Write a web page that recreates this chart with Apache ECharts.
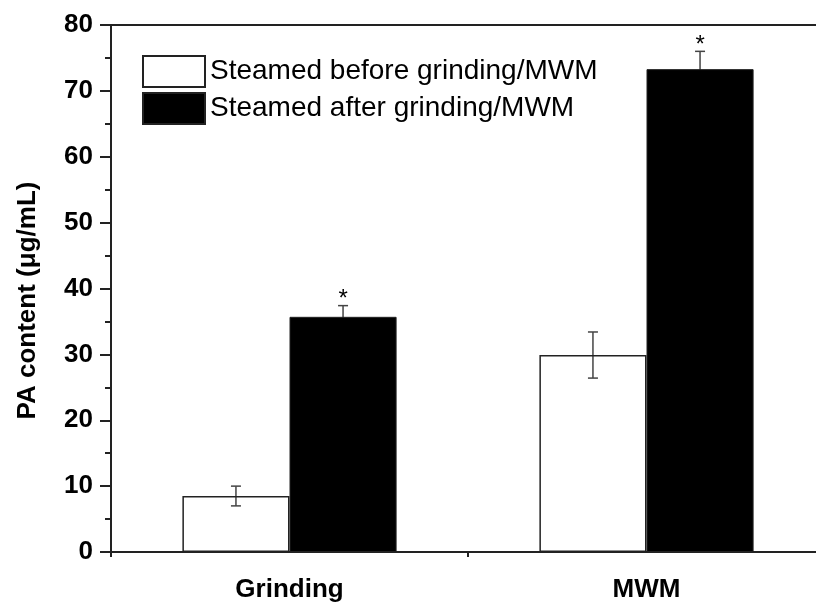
<!DOCTYPE html>
<html>
<head>
<meta charset="utf-8">
<script src="https://cdn.jsdelivr.net/npm/echarts@6/dist/echarts.min.js"></script>
<style>
  html, body { margin: 0; padding: 0; background: #fff; overflow: hidden; }
  /* plot frame continues a little past the right edge of the window */
  #chart { width: 825px; height: 605px; }
</style>
</head>
<body>
<div id="chart"></div>
<script>
// Categories and measured PA content (mean, SD) for each treatment
const categories = ['Grinding', 'MWM'];
const seriesNames = ['Steamed before grinding/MWM', 'Steamed after grinding/MWM'];
const beforeMeans = [8.5, 29.9];
const beforeErrors = [1.5, 3.5];
const beforeMarks = ['', ''];
const afterMeans = [35.7, 73.3];
const afterErrors = [1.7, 2.7];
const afterMarks = ['*', '*'];
const yTicks = { min: 0, max: 80, interval: 10 };

const FONT = 'Arial, "Liberation Sans", sans-serif';

function errorData(means, errs) {
  return means.map((m, i) => [i, m, errs[i]]);
}

// Whiskers with caps, plus an optional significance mark above the cap
function makeErrorRenderer(offsetFrac, marks) {
  return function (params, api) {
    const idx = api.value(0);
    const mean = api.value(1);
    const err = api.value(2);
    const mark = marks[params.dataIndex];
    const band = api.size([1, 0])[0];
    const x = api.coord([idx, mean])[0] + offsetFrac * band;
    const yHi = api.coord([idx, mean + err])[1];
    const yLo = api.coord([idx, mean - err])[1];
    const cap = 5;
    const style = { stroke: '#444', lineWidth: 1.5 };
    const children = [
      { type: 'line', shape: { x1: x, y1: yHi, x2: x, y2: yLo }, style: style },
      { type: 'line', shape: { x1: x - cap, y1: yHi, x2: x + cap, y2: yHi }, style: style },
      { type: 'line', shape: { x1: x - cap, y1: yLo, x2: x + cap, y2: yLo }, style: style }
    ];
    if (mark) {
      children.push({
        type: 'text',
        style: {
          text: mark, x: x, y: yHi - 6,
          align: 'center', verticalAlign: 'middle',
          font: '24px ' + FONT, fill: '#000'
        }
      });
    }
    return { type: 'group', children: children };
  };
}

const chart = echarts.init(document.getElementById('chart'), null, { renderer: 'canvas' });

chart.setOption({
  animation: false,
  backgroundColor: '#fff',
  grid: {
    left: 111, top: 25, right: 0, bottom: 53,
    show: true, borderColor: '#222', borderWidth: 2, backgroundColor: 'transparent'
  },
  legend: {
    data: seriesNames,
    orient: 'vertical',
    left: 142, top: 55,
    padding: 0,
    itemWidth: 62, itemHeight: 31, itemGap: 4,
    icon: 'rect',
    textStyle: { fontFamily: FONT, fontSize: 28, color: '#000' }
  },
  xAxis: {
    type: 'category',
    data: categories,
    boundaryGap: true,
    axisLine: { lineStyle: { color: '#222', width: 2 } },
    axisTick: { show: true, length: 5, lineStyle: { color: '#222', width: 2 } },
    axisLabel: { fontFamily: FONT, fontSize: 26, fontWeight: 'bold', color: '#000', margin: 25 },
    splitLine: { show: false }
  },
  yAxis: {
    type: 'value',
    min: yTicks.min, max: yTicks.max, interval: yTicks.interval,
    name: 'PA content (\u03bcg/mL)',
    nameLocation: 'middle',
    nameGap: 70,
    nameTextStyle: {
      fontFamily: FONT, fontSize: 26, fontWeight: 'bold', color: '#000',
      padding: [0, 24, 0, 0]
    },
    axisLine: { show: true, lineStyle: { color: '#222', width: 2 } },
    axisTick: { show: true, length: 11, lineStyle: { color: '#222', width: 2 } },
    minorTick: { show: true, splitNumber: 2, length: 6, lineStyle: { color: '#222', width: 2 } },
    axisLabel: { fontFamily: FONT, fontSize: 26, fontWeight: 'bold', color: '#000', margin: 18 },
    splitLine: { show: false }
  },
  series: [
    {
      name: seriesNames[0],
      type: 'bar',
      data: beforeMeans,
      barGap: '0%',
      barCategoryGap: '40%',
      z: 3,
      itemStyle: { color: 'rgba(255,255,255,0)', borderColor: '#222', borderWidth: 1.5 }
    },
    {
      name: seriesNames[1],
      type: 'bar',
      data: afterMeans,
      z: 3,
      itemStyle: { color: '#000', borderColor: '#222', borderWidth: 1 }
    },
    {
      type: 'custom',
      z: 1,
      renderItem: makeErrorRenderer(-0.15, beforeMarks),
      data: errorData(beforeMeans, beforeErrors),
      encode: { x: 0, y: 1 },
      silent: true
    },
    {
      type: 'custom',
      z: 1,
      renderItem: makeErrorRenderer(0.15, afterMarks),
      data: errorData(afterMeans, afterErrors),
      encode: { x: 0, y: 1 },
      silent: true
    }
  ]
});
</script>
</body>
</html>
